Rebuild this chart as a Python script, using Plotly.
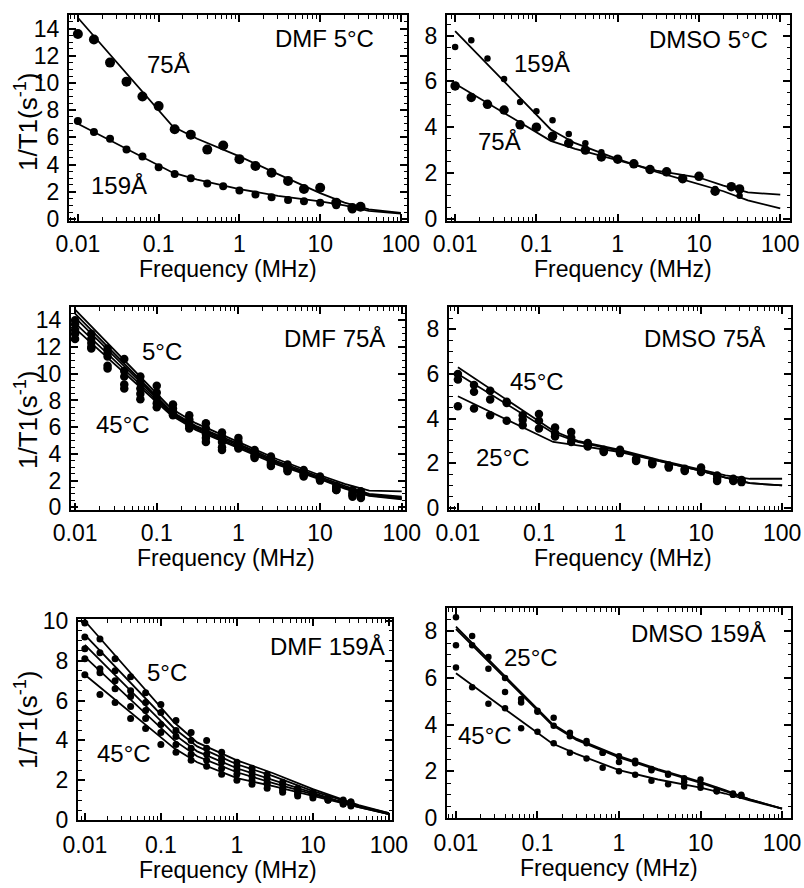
import plotly.graph_objects as go

# ---------------- data ----------------
FREQ = [0.01, 0.0158, 0.025, 0.04, 0.063, 0.1, 0.158, 0.25, 0.4, 0.63,
        1, 1.58, 2.5, 4, 6.3, 10, 15.8, 25, 31.6]
FIT_FREQ = [0.01, 0.15, 0.3, 1, 3, 10, 20, 40, 100]
X_TICKS = [0.01, 0.1, 1, 10, 100]
X_TICKTEXT = ["0.01", "0.1", "1", "10", "100"]

# Panel 1: DMF 5 C
DMF5_75 = [13.6, 13.2, 11.5, 10.1, 9.0, 8.3, 6.6, 6.2, 5.1, 5.4, 4.4, 3.9, 3.4, 2.8, 2.2, 2.3, 1.2, 0.8, 0.9]
DMF5_159 = [7.2, 6.4, 5.9, 5.1, 4.6, 3.8, 3.3, 3.0, 2.6, 2.4, 2.1, 1.8, 1.6, 1.4, 1.3, 1.2, 1.0, 0.7, 0.9]
DMF5_75_FIT = [14.8, 6.8, 5.9, 4.6, 3.3, 1.9, 1.2, 0.7, 0.45]
DMF5_159_FIT = [7.0, 3.4, 2.9, 2.2, 1.7, 1.3, 1.0, 0.6, 0.4]

# Panel 2: DMSO 5 C
DMSO5_159 = [7.5, 7.8, 7.0, 6.1, 5.1, 4.7, 4.3, 3.7, 3.3, 2.9, 2.6, 2.4, 2.1, 2.0, 1.7, 1.9, 1.3, 1.4, 1.0]
DMSO5_75 = [5.8, 5.3, 5.0, 4.75, 4.1, 4.0, 3.6, 3.3, 3.0, 2.7, 2.6, 2.4, 2.15, 2.05, 1.75, 1.85, 1.2, 1.4, 1.3]
DMSO5_159_FIT = [8.2, 3.9, 3.3, 2.6, 2.05, 1.5, 1.2, 0.8, 0.45]
DMSO5_75_FIT = [5.9, 3.4, 3.05, 2.55, 2.1, 1.8, 1.45, 1.15, 1.05]

# Panel 3: DMF 75 A (5, 15, 25, 35, 45 C)
DMF75_5 = [14.0, 13.0, 11.9, 11.1, 9.8, 9.1, 7.7, 6.9, 6.3, 5.6, 5.2, 4.3, 3.8, 3.2, 2.8, 2.3, 1.6, 1.3, 1.2]
DMF75_15 = [13.7, 12.6, 11.6, 10.2, 9.4, 8.6, 7.4, 6.6, 5.9, 5.3, 4.9, 4.1, 3.6, 3.0, 2.6, 2.2, 1.5, 1.1, 1.0]
DMF75_25 = [13.3, 12.3, 11.3, 9.8, 8.9, 8.2, 7.2, 6.4, 5.5, 4.9, 4.7, 3.9, 3.4, 2.9, 2.5, 2.1, 1.4, 1.0, 0.9]
DMF75_35 = [13.0, 12.0, 10.6, 9.2, 8.5, 7.8, 7.0, 6.1, 5.2, 4.5, 4.5, 3.8, 3.2, 2.8, 2.4, 2.1, 1.3, 0.9, 0.8]
DMF75_45 = [12.6, 11.9, 10.4, 8.9, 8.1, 7.5, 6.9, 5.9, 4.9, 4.3, 4.4, 3.7, 3.1, 2.7, 2.3, 2.0, 1.3, 0.8, 0.7]
DMF75_5_FIT = [14.8, 7.4, 6.3, 4.9, 3.6, 2.4, 1.75, 1.25, 1.2]
DMF75_15_FIT = [14.5, 7.2, 6.1, 4.75, 3.45, 2.3, 1.6, 1.0, 0.8]
DMF75_25_FIT = [14.2, 7.1, 6.0, 4.65, 3.35, 2.2, 1.5, 0.95, 0.7]
DMF75_35_FIT = [13.8, 7.0, 5.9, 4.55, 3.3, 2.15, 1.45, 0.9, 0.65]
DMF75_45_FIT = [13.4, 6.9, 5.8, 4.45, 3.2, 2.1, 1.4, 0.85, 0.6]

# Panel 4: DMSO 75 A (25, 35, 45 C)
DMSO75_45 = [6.0, 5.5, 5.25, 4.75, 4.15, 4.2, 3.6, 3.4, 2.9, 2.6, 2.6, 2.2, 2.05, 1.9, 1.75, 1.8, 1.45, 1.3, 1.25]
DMSO75_35 = [5.75, 5.2, 4.85, 4.7, 3.95, 3.9, 3.35, 3.15, 2.8, 2.55, 2.5, 2.15, 2.0, 1.85, 1.7, 1.7, 1.3, 1.25, 1.2]
DMSO75_25 = [4.55, 4.45, 4.15, 3.9, 3.7, 3.55, 3.2, 2.95, 2.75, 2.5, 2.45, 2.1, 1.95, 1.8, 1.65, 1.6, 1.2, 1.2, 1.15]
DMSO75_45_FIT = [6.3, 3.45, 3.0, 2.6, 2.15, 1.7, 1.45, 1.3, 1.3]
DMSO75_35_FIT = [6.0, 3.35, 2.95, 2.55, 2.1, 1.65, 1.35, 1.1, 1.0]
DMSO75_25_FIT = [5.0, 2.95, 2.8, 2.5, 2.1, 1.65, 1.35, 1.1, 1.0]

# Panel 5: DMF 159 A (5, 15, 25, 35, 45 C)
DMF159_5 = [9.9, 9.1, 8.1, 7.2, 6.4, 5.8, 5.0, 4.4, 4.0, 3.4, 2.9, 2.6, 2.3, 1.9, 1.6, 1.4, 1.1, 1.0, 0.9]
DMF159_15 = [9.2, 8.4, 7.5, 6.5, 5.9, 5.4, 4.5, 4.0, 3.6, 3.1, 2.7, 2.4, 2.1, 1.8, 1.5, 1.3, 1.1, 0.9, 0.9]
DMF159_25 = [8.6, 7.6, 7.0, 6.2, 5.5, 4.8, 4.2, 3.6, 3.3, 2.9, 2.5, 2.2, 1.9, 1.6, 1.4, 1.3, 1.0, 0.9, 0.8]
DMF159_35 = [8.1, 7.4, 6.6, 5.7, 5.1, 4.4, 3.8, 3.3, 3.0, 2.6, 2.3, 2.0, 1.8, 1.5, 1.3, 1.2, 1.0, 0.8, 0.8]
DMF159_45 = [7.3, 6.3, 5.9, 5.1, 4.6, 3.8, 3.4, 3.0, 2.7, 2.3, 2.0, 1.8, 1.6, 1.4, 1.2, 1.1, 1.0, 0.8, 0.7]
DMF159_5_FIT = [10.0, 4.9, 3.9, 3.0, 2.35, 1.55, 1.15, 0.75, 0.35]
DMF159_15_FIT = [9.3, 4.6, 3.7, 2.8, 2.2, 1.45, 1.1, 0.7, 0.35]
DMF159_25_FIT = [8.8, 4.3, 3.45, 2.6, 2.0, 1.35, 1.0, 0.7, 0.3]
DMF159_35_FIT = [8.2, 4.0, 3.2, 2.4, 1.85, 1.3, 1.0, 0.65, 0.3]
DMF159_45_FIT = [7.3, 3.6, 2.9, 2.1, 1.7, 1.2, 0.95, 0.65, 0.3]

# Panel 6: DMSO 159 A (25, 35, 45 C)
DMSO159_25 = [8.6, 7.8, 6.9, 6.0, 5.1, 4.6, 4.3, 3.65, 3.3, 2.8, 2.65, 2.45, 2.1, 1.9, 1.7, 1.65, 1.2, 1.05, 1.0]
DMSO159_35 = [7.4, 7.4, 6.4, 5.4, 4.95, 4.55, 3.95, 3.5, 3.2, 2.8, 2.4, 2.35, 2.05, 1.85, 1.55, 1.45, 1.15, 1.0, 0.95]
DMSO159_45 = [6.45, 5.6, 4.9, 4.7, 3.85, 3.7, 3.2, 2.8, 2.55, 2.15, 2.0, 1.85, 1.6, 1.45, 1.35, 1.3, 1.15, 1.0, 0.95]
DMSO159_25_FIT = [8.2, 4.05, 3.4, 2.65, 2.1, 1.55, 1.2, 0.8, 0.4]
DMSO159_35_FIT = [8.1, 4.0, 3.35, 2.6, 2.05, 1.5, 1.15, 0.8, 0.4]
DMSO159_45_FIT = [6.2, 3.2, 2.75, 2.05, 1.65, 1.3, 1.05, 0.75, 0.4]

# ---------------- layout helpers ----------------
W, H = 804, 888
FONT = "Liberation Sans, Arial, Helvetica, sans-serif"
FS_TICK = 23
FS_TITLE = 23
FS_LABEL = 24


def px(x):
    return x / W


def py(y):
    return 1 - y / H


panels = [
    dict(box=(69, 407, 15, 221), xr=[-2.11, 2.075], yr=[-0.15, 15.0], so=1,
         dots=[(DMF5_75, 10), (DMF5_159, 8)],
         fits=[DMF5_75_FIT, DMF5_159_FIT],
         label=("DMF 5°C", 376, 38),
         texts=[("75Å", 168, 64), ("159Å", 119, 186)],
         xtitle=(228, 269), ytitle=(26, 122)),
    dict(box=(447, 790, 15, 221), xr=[-2.1, 2.12], yr=[-0.1, 8.9], so=1,
         dots=[(DMSO5_159, 6.5), (DMSO5_75, 9.5)],
         fits=[DMSO5_159_FIT, DMSO5_75_FIT],
         label=("DMSO 5°C", 770, 39),
         texts=[("159Å", 542, 63), ("75Å", 499, 141)],
         xtitle=(623, 269), ytitle=None),
    dict(box=(71, 405, 307, 510), xr=[-2.05, 2.04], yr=[-0.2, 15.0], so=1,
         dots=[(DMF75_5, 8.5), (DMF75_15, 8.5), (DMF75_25, 8.5), (DMF75_35, 8.5), (DMF75_45, 8.5)],
         fits=[DMF75_5_FIT, DMF75_15_FIT, DMF75_25_FIT, DMF75_35_FIT, DMF75_45_FIT],
         label=("DMF 75Å", 387, 338),
         texts=[("5°C", 162, 352), ("45°C", 123, 424)],
         xtitle=(226, 558), ytitle=(26, 420)),
    dict(box=(449, 791, 307, 510), xr=[-2.11, 2.11], yr=[-0.1, 9.0], so=1,
         dots=[(DMSO75_45, 8.5), (DMSO75_35, 8.5), (DMSO75_25, 8.5)],
         fits=[DMSO75_45_FIT, DMSO75_35_FIT, DMSO75_25_FIT],
         label=("DMSO 75Å", 767, 338),
         texts=[("45°C", 537, 381), ("25°C", 503, 457)],
         xtitle=(623, 558), ytitle=None),
    dict(box=(78, 392, 619, 820), xr=[-2.09, 2.04], yr=[0, 10.1], so=3,
         dots=[(DMF159_5, 7), (DMF159_15, 7), (DMF159_25, 7), (DMF159_35, 7), (DMF159_45, 7)],
         fits=[DMF159_5_FIT, DMF159_15_FIT, DMF159_25_FIT, DMF159_35_FIT, DMF159_45_FIT],
         label=("DMF 159Å", 387, 646),
         texts=[("5°C", 167, 672), ("45°C", 124, 753)],
         xtitle=(228, 870), ytitle=(26, 720)),
    dict(box=(447, 791, 608, 818), xr=[-2.11, 2.11], yr=[0, 9.0], so=3,
         dots=[(DMSO159_25, 6.5), (DMSO159_35, 6.5), (DMSO159_45, 6.5)],
         fits=[DMSO159_25_FIT, DMSO159_35_FIT, DMSO159_45_FIT],
         label=("DMSO 159Å", 768, 633),
         texts=[("25°C", 531, 657), ("45°C", 485, 735)],
         xtitle=(609, 868), ytitle=None),
]

minor_x = [m * 10 ** e for e in range(-3, 3) for m in range(2, 10)]

fig = go.Figure()
layout = {}
annotations = []

for i, p in enumerate(panels, start=1):
    xa = "x" if i == 1 else f"x{i}"
    ya = "y" if i == 1 else f"y{i}"
    x0, x1, y0, y1 = p["box"]
    for vals, size in p["dots"]:
        fig.add_trace(go.Scatter(x=FREQ, y=vals, mode="markers",
                                 marker=dict(color="black", size=size, line=dict(width=0)),
                                 xaxis=xa, yaxis=ya, showlegend=False, hoverinfo="skip"))
    for vals in p["fits"]:
        fig.add_trace(go.Scatter(x=FIT_FREQ, y=vals, mode="lines",
                                 line=dict(color="black", width=1.8),
                                 xaxis=xa, yaxis=ya, showlegend=False, hoverinfo="skip"))
    common = dict(showline=True, linecolor="black", linewidth=2, mirror="allticks",
                  ticks="inside", tickcolor="black", tickwidth=1.5, ticklen=7,
                  showgrid=False, zeroline=False, fixedrange=True, automargin=False,
                  tickfont=dict(family=FONT, size=FS_TICK, color="black"))
    layout["xaxis" if i == 1 else f"xaxis{i}"] = dict(
        common, type="log", range=p["xr"], domain=[px(x0), px(x1)],
        anchor=ya, tickmode="array", tickvals=X_TICKS, ticktext=X_TICKTEXT,
        minor=dict(tickmode="array", tickvals=minor_x, ticks="inside", ticklen=4,
                   tickwidth=1, tickcolor="black"),
        ticklabelstandoff=p["so"])
    layout["yaxis" if i == 1 else f"yaxis{i}"] = dict(
        common, range=p["yr"], domain=[py(y1), py(y0)], anchor=xa,
        tick0=0, dtick=2,
        minor=dict(dtick=0.5, ticks="inside", ticklen=3.5, tickwidth=1, tickcolor="black"),
        ticklabelstandoff=3)
    txt, tx, ty = p["label"]
    annotations.append(dict(text=txt, x=px(tx), y=py(ty), xref="paper", yref="paper",
                            xanchor="right", yanchor="middle", showarrow=False,
                            font=dict(family=FONT, size=FS_LABEL, color="black")))
    for txt, tx, ty in p["texts"]:
        annotations.append(dict(text=txt, x=px(tx), y=py(ty), xref="paper", yref="paper",
                                xanchor="center", yanchor="middle", showarrow=False,
                                font=dict(family=FONT, size=FS_LABEL, color="black")))
    tx, ty = p["xtitle"]
    annotations.append(dict(text="Frequency (MHz)", x=px(tx), y=py(ty), xref="paper", yref="paper",
                            xanchor="center", yanchor="middle", showarrow=False,
                            font=dict(family=FONT, size=FS_TITLE, color="black")))
    if p["ytitle"]:
        tx, ty = p["ytitle"]
        annotations.append(dict(text="1/T1(s<sup>-1</sup>)", x=px(tx), y=py(ty),
                                xref="paper", yref="paper", textangle=-90,
                                xanchor="center", yanchor="middle", showarrow=False,
                                font=dict(family=FONT, size=FS_TITLE + 3, color="black")))

fig.update_layout(**layout)
fig.update_layout(template="none", width=W, height=H,
                  margin=dict(l=0, r=0, t=0, b=0, pad=0),
                  paper_bgcolor="white", plot_bgcolor="white",
                  annotations=annotations, showlegend=False)

fig.write_html("out.html", config={"displayModeBar": False},
               post_script="document.body.style.margin='0';")
